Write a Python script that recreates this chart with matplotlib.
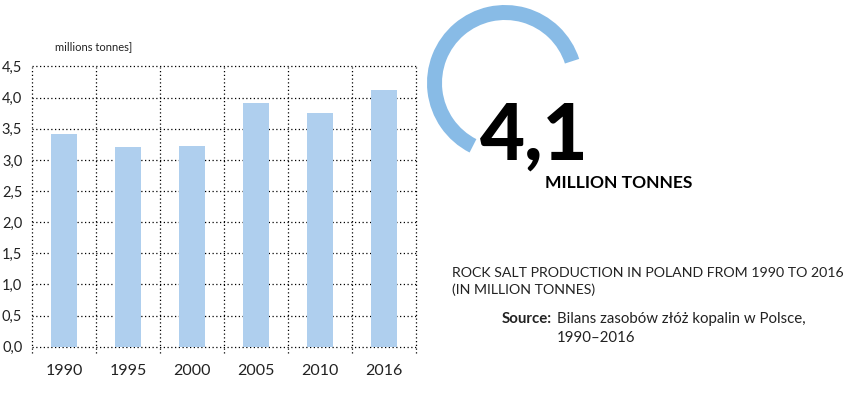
import matplotlib
matplotlib.use("Agg")
import matplotlib.pyplot as plt
from matplotlib.patches import Wedge

years = ["1990", "1995", "2000", "2005", "2010", "2016"]
production = [3.42, 3.21, 3.23, 3.91, 3.76, 4.12]
ytick_vals = [0.0, 0.5, 1.0, 1.5, 2.0, 2.5, 3.0, 3.5, 4.0, 4.5]
ytick_labels = ["0,0", "0,5", "1,0", "1,5", "2,0", "2,5", "3,0", "3,5", "4,0", "4,5"]
headline_value = "4,1"
headline_unit = "MILLION TONNES"
unit_label = "millions tonnes]"
title_lines = ["ROCK SALT PRODUCTION IN POLAND FROM 1990 TO 2016", "(IN MILLION TONNES)"]
source_label = "Source:"
source_lines = ["Bilans zasobów złóż kopalin w Polsce,", "1990–2016"]

BAR_COLOR = "#AFCFEE"
ARC_COLOR = "#88BBE6"
W, H = 860, 394
DOT = (0, (1, 2))

fig = plt.figure(figsize=(W / 100, H / 100), dpi=100)
fig.patch.set_facecolor("white")

# Bar chart axes
ax = fig.add_axes([32 / W, 1 - 353 / H, 384 / W, (353 - 66.5) / H])
x = list(range(len(years)))
ax.bar(x, production, width=0.4, color=BAR_COLOR, zorder=2)
ax.set_xlim(-0.5, len(years) - 0.5)
ax.set_ylim(-0.1, 4.5)
for s in ax.spines.values():
    s.set_visible(False)
ax.set_yticks(ytick_vals)
ax.set_yticklabels(ytick_labels, fontsize=10.5, family="Lato", color="#222222")
ax.set_xticks(x)
ax.set_xticklabels(years, fontsize=11.5, family="Lato", color="#222222")
ax.tick_params(axis="both", which="both", length=0)
ax.tick_params(axis="y", pad=7)
ax.tick_params(axis="x", pad=8)
for v in ytick_vals:
    ax.axhline(v, color="black", linestyle=DOT, linewidth=0.9, zorder=1, clip_on=False)
for i in range(len(years) + 1):
    ax.axvline(i - 0.5, color="black", linestyle=DOT, linewidth=0.9, zorder=1, clip_on=False)

# Overlay axes in pixel coordinates
ov = fig.add_axes([0, 0, 1, 1], facecolor="none")
ov.set_xlim(0, W)
ov.set_ylim(H, 0)
ov.axis("off")

ov.add_patch(Wedge((505, 83), 78, -243, -18, width=15, facecolor=ARC_COLOR, edgecolor="none"))

ov.text(480, 160, headline_value, fontsize=56, fontweight="black", family="Lato",
        color="black", ha="left", va="baseline")
ov.text(545, 188, headline_unit, fontsize=12.6, fontweight="bold", family="Lato",
        color="black", ha="left", va="baseline")

ov.text(55, 50, unit_label, fontsize=8, family="Lato", color="#222222", ha="left", va="baseline")

ov.text(452, 277, title_lines[0], fontsize=10.2, family="Lato", color="#222222",
        ha="left", va="baseline")
ov.text(452, 294, title_lines[1], fontsize=10.2, family="Lato", color="#222222",
        ha="left", va="baseline")
ov.text(502, 323, source_label, fontsize=10.8, fontweight="bold", family="Lato",
        color="#222222", ha="left", va="baseline")
ov.text(557, 323, source_lines[0], fontsize=10.8, family="Lato", color="#222222",
        ha="left", va="baseline")
ov.text(557, 342, source_lines[1], fontsize=10.8, family="Lato", color="#222222",
        ha="left", va="baseline")

fig.savefig("out.png", dpi=100, facecolor="white")
